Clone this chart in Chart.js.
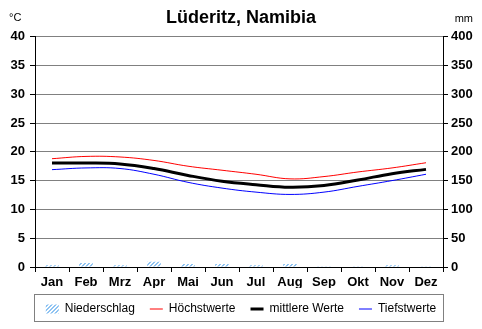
<!DOCTYPE html>
<html><head><meta charset="utf-8">
<script src="https://cdn.jsdelivr.net/npm/chart.js@4"></script>
<style>html,body{margin:0;padding:0;background:#fff}canvas{display:block}</style>
</head><body>
<canvas id="c" width="482" height="329"></canvas>
<script>
const months = ['Jan','Feb','Mrz','Apr','Mai','Jun','Jul','Aug','Sep','Okt','Nov','Dez'];
const precipitation = [3, 7, 3, 9, 5, 5, 3, 5, 1.5, 1.5, 3, 1.5];
const maxTemp = [18.8, 19.2, 19.1, 18.5, 17.5, 16.8, 16.1, 15.3, 15.7, 16.5, 17.2, 18.1];
const meanTemp = [18.05, 18.05, 17.9, 17.1, 15.9, 14.9, 14.3, 13.85, 14.15, 15.1, 16.2, 16.95];
const minTemp = [16.9, 17.2, 17.1, 16.1, 14.7, 13.7, 13.0, 12.6, 13.0, 14.0, 15.0, 16.1];
const seriesNames = ['Niederschlag', 'Höchstwerte', 'mittlere Werte', 'Tiefstwerte'];
const titleText = 'Lüderitz, Namibia';
const leftUnit = '°C';
const rightUnit = 'mm';

const FONT = "'Liberation Sans', Arial, sans-serif";
Chart.defaults.font.family = FONT;
Chart.defaults.color = '#000';

function hatch() {
  const p = document.createElement('canvas');
  p.width = 4; p.height = 4;
  const g = p.getContext('2d');
  g.fillStyle = '#ffffff';
  g.fillRect(0, 0, 4, 4);
  g.fillStyle = '#8ec3f2';
  for (let i = 0; i < 4; i++) {
    g.fillRect(3 - i, i, 1, 1);
    g.fillRect((4 - i) % 4, i, 1, 1);
  }
  return g.createPattern(p, 'repeat');
}
const pattern = hatch();

const unitsPlugin = {
  id: 'units',
  afterDraw(chart) {
    const ctx = chart.ctx;
    ctx.save();
    ctx.font = '11px ' + FONT;
    ctx.fillStyle = '#000';
    ctx.textBaseline = 'middle';
    ctx.textAlign = 'left';
    ctx.fillText(leftUnit, 9, 18);
    ctx.textAlign = 'right';
    ctx.fillText(rightUnit, chart.width - 9, 19);
    // legend border
    const boxes = chart.legend && chart.legend.legendHitBoxes;
    if (boxes && boxes.length) {
      let l = Infinity, r = -Infinity, t = Infinity, b = -Infinity;
      boxes.forEach(h => { l = Math.min(l, h.left); r = Math.max(r, h.left + h.width); t = Math.min(t, h.top); b = Math.max(b, h.top + h.height); });
      ctx.strokeStyle = '#808080';
      ctx.lineWidth = 1;
      ctx.strokeRect(Math.round(l - 12) + 0.5, Math.round(t - 9) + 0.5, Math.round(r - l + 19), Math.round(b - t + 15));
    }
    ctx.restore();
  }
};

new Chart(document.getElementById('c'), {
  type: 'bar',
  data: {
    labels: months,
    datasets: [
      { type: 'bar', label: seriesNames[0], data: precipitation, yAxisID: 'y2', backgroundColor: pattern, borderWidth: 0, barPercentage: 0.4, categoryPercentage: 1 },
      { type: 'line', label: seriesNames[1], data: maxTemp, yAxisID: 'y', borderColor: '#ff0000', borderWidth: 1, pointRadius: 0, tension: 0.4, fill: false },
      { type: 'line', label: seriesNames[2], data: meanTemp, yAxisID: 'y', borderColor: '#000000', borderWidth: 3, pointRadius: 0, tension: 0.4, fill: false },
      { type: 'line', label: seriesNames[3], data: minTemp, yAxisID: 'y', borderColor: '#0000ff', borderWidth: 1, pointRadius: 0, tension: 0.4, fill: false }
    ]
  },
  options: {
    responsive: false,
    animation: false,
    devicePixelRatio: 1,
    layout: { padding: { left: 0, right: 0, top: 0, bottom: 4 } },
    plugins: {
      tooltip: { enabled: false },
      title: { display: true, text: titleText, color: '#000', font: { size: 18, weight: 'bold' }, padding: { top: 7, bottom: 8 } },
      legend: {
        position: 'bottom',
        labels: {
          usePointStyle: true,
          pointStyleWidth: 13,
          boxHeight: 9,
          color: '#000',
          padding: 15,
          font: { size: 12 },
          generateLabels(chart) {
            return chart.data.datasets.map((d, i) => ({
              text: d.label,
              fillStyle: i === 0 ? pattern : d.borderColor,
              strokeStyle: i === 0 ? 'rgba(0,0,0,0)' : d.borderColor,
              lineWidth: i === 0 ? 0 : (i === 2 ? 3 : 1),
              pointStyle: i === 0 ? 'rect' : 'line',
              hidden: false,
              datasetIndex: i
            }));
          }
        }
      }
    },
    scales: {
      x: {
        offset: true,
        grid: { display: true, drawOnChartArea: false, offset: true, tickLength: 5, color: '#000' },
        border: { color: '#000' },
        ticks: { font: { size: 13, weight: 'bold' }, color: '#000', padding: 3, maxRotation: 0 },
        afterFit(s) { s.height = 21; }
      },
      y: {
        position: 'left',
        min: 0, max: 40,
        ticks: { stepSize: 5, font: { size: 13, weight: 'bold' }, color: '#000', padding: 5 },
        grid: { color: c => (c.tick && c.tick.value === 0 ? '#000' : '#808080'), tickColor: '#000', tickLength: 5 },
        border: { color: '#000' },
        afterFit(s) { s.width = 35; }
      },
      y2: {
        position: 'right',
        min: 0, max: 400,
        ticks: { stepSize: 50, font: { size: 13, weight: 'bold' }, color: '#000', padding: 3 },
        grid: { drawOnChartArea: false, tickColor: '#000', tickLength: 5 },
        border: { color: '#000' },
        afterFit(s) { s.width = 39; }
      }
    }
  },
  plugins: [unitsPlugin]
});
</script>
</body></html>
